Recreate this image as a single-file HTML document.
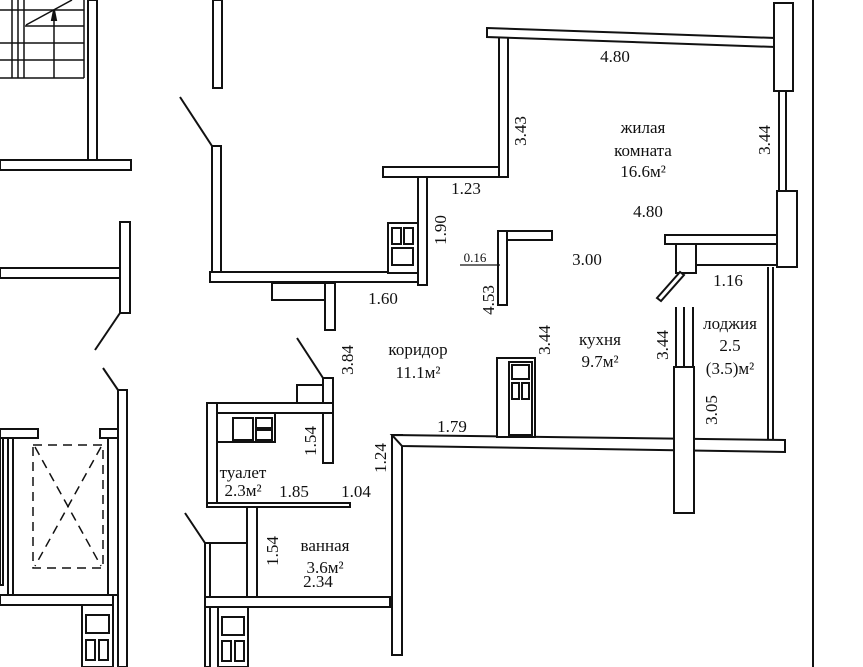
<!DOCTYPE html>
<html><head><meta charset="utf-8"><style>
html,body{margin:0;padding:0;background:#fff;}
svg{display:block;}
text{font-family:"Liberation Serif","DejaVu Serif",serif;font-size:17px;fill:#111;}
</style></head><body>
<svg width="863" height="667" viewBox="0 0 863 667" xmlns="http://www.w3.org/2000/svg">
<g fill="#fff" stroke="#111" stroke-width="2">
<!-- stair top-left -->
<g stroke-width="1.5">
<line x1="0" y1="10" x2="84" y2="10"/><line x1="25" y1="26" x2="84" y2="26"/><line x1="0" y1="43" x2="84" y2="43"/><line x1="0" y1="60" x2="84" y2="60"/><line x1="0" y1="78" x2="84" y2="78"/>
<line x1="12" y1="0" x2="12" y2="78"/><line x1="18" y1="0" x2="18" y2="78"/><line x1="24" y1="0" x2="24" y2="78"/>
<line x1="54" y1="12" x2="54" y2="78"/><line x1="26" y1="25" x2="72" y2="0"/><line x1="84" y1="0" x2="84" y2="78"/>
</g>
<polygon points="52,20 54,10 56,20" fill="#111"/>
<rect x="88" y="0" width="9" height="160"/>
<rect x="0" y="160" width="131" height="10"/>
<rect x="213" y="0" width="9" height="88"/>
<line x1="180" y1="97" x2="212" y2="146"/>
<rect x="212" y="146" width="9" height="126"/>
<rect x="210" y="272" width="217" height="10"/>
<rect x="418" y="176" width="9" height="109"/>
<rect x="383" y="167" width="124" height="10"/>
<rect x="499" y="37" width="9" height="140"/>
<polygon points="487,28 775,38 775,47 487,37"/>
<rect x="774" y="3" width="19" height="88"/>
<line x1="779" y1="91" x2="779" y2="191"/><line x1="786" y1="91" x2="786" y2="191"/>
<rect x="777" y="191" width="20" height="76"/>
<rect x="665" y="235" width="112" height="9"/>
<rect x="677" y="244" width="100" height="21"/>
<rect x="676" y="244" width="20" height="29"/>
<polygon points="657,298 680,272 684,275 661,301"/>
<line x1="768" y1="267" x2="768" y2="440"/><line x1="773" y1="267" x2="773" y2="440"/>
<line x1="813" y1="0" x2="813" y2="667"/>
<rect x="498" y="231" width="54" height="9"/>
<rect x="498" y="231" width="9" height="74"/>
<line x1="460" y1="265" x2="500" y2="265" stroke-width="1.2"/>
<!-- fridge top -->
<rect x="388" y="223" width="30" height="50"/>
<rect x="392" y="228" width="9" height="16"/><rect x="404" y="228" width="9" height="16"/><rect x="392" y="248" width="21" height="17"/>
<rect x="272" y="283" width="53" height="17"/>
<rect x="325" y="283" width="10" height="47"/>
<!-- left middle -->
<rect x="0" y="268" width="120" height="10"/>
<rect x="120" y="222" width="10" height="91"/>
<line x1="120" y1="313" x2="95" y2="350"/>
<!-- bottom-left -->
<line x1="103" y1="368" x2="118" y2="390"/>
<rect x="118" y="390" width="9" height="277"/>
<rect x="0" y="429" width="38" height="9"/>
<rect x="100" y="429" width="18" height="9"/>
<rect x="0" y="438" width="3" height="147"/><rect x="8" y="438" width="5" height="157"/>
<rect x="0" y="595" width="113" height="10"/>
<rect x="108" y="438" width="10" height="157"/>
<g stroke-dasharray="9,6" stroke-width="1.5" fill="none">
<rect x="33" y="445" width="70" height="123"/><line x1="35" y1="447" x2="101" y2="566"/><line x1="101" y1="447" x2="35" y2="566"/>
</g>
<rect x="82" y="605" width="31" height="62"/>
<rect x="86" y="615" width="23" height="18"/><rect x="86" y="640" width="9" height="20"/><rect x="99" y="640" width="9" height="20"/>
<!-- toilet -->
<line x1="297" y1="338" x2="323" y2="378"/>
<rect x="297" y="385" width="26" height="20"/>
<rect x="323" y="378" width="10" height="85"/>
<rect x="207" y="403" width="126" height="10"/>
<rect x="207" y="403" width="10" height="102"/>
<rect x="217" y="413" width="58" height="29"/>
<rect x="233" y="418" width="20" height="22"/><rect x="256" y="418" width="16" height="10"/><rect x="256" y="430" width="16" height="10"/>
<rect x="207" y="503" width="143" height="4"/>
<!-- bath -->
<line x1="185" y1="513" x2="205" y2="543"/>
<rect x="247" y="507" width="10" height="91"/>
<rect x="205" y="543" width="5" height="124"/>
<rect x="210" y="543" width="37" height="54"/>
<rect x="205" y="597" width="185" height="10"/>
<rect x="218" y="607" width="30" height="60"/>
<rect x="222" y="617" width="22" height="18"/><rect x="222" y="641" width="9" height="20"/><rect x="235" y="641" width="9" height="20"/>
<!-- corridor / kitchen bottom -->
<rect x="392" y="435" width="10" height="220"/>
<polygon points="392,435 785,440 785,452 402,446"/>
<rect x="497" y="358" width="38" height="79"/>
<rect x="509" y="362" width="23" height="73"/>
<rect x="512" y="365" width="17" height="14"/><rect x="512" y="383" width="7" height="16"/><rect x="522" y="383" width="7" height="16"/>
<line x1="676" y1="307" x2="676" y2="367"/><line x1="684" y1="307" x2="684" y2="367"/><line x1="693" y1="307" x2="693" y2="367"/>
<rect x="674" y="367" width="20" height="146"/>
</g>
<g text-anchor="middle">
<text x="615" y="62">4.80</text>
<text x="643" y="133">жилая</text>
<text x="643" y="156">комната</text>
<text x="643" y="177">16.6м²</text>
<text x="466" y="194">1.23</text>
<text x="648" y="217">4.80</text>
<text x="475" y="262" style="font-size:13px">0.16</text>
<text x="587" y="265">3.00</text>
<text x="728" y="286">1.16</text>
<text x="383" y="304">1.60</text>
<text x="600" y="345">кухня</text>
<text x="600" y="367">9.7м²</text>
<text x="730" y="329">лоджия</text>
<text x="730" y="351">2.5</text>
<text x="730" y="374">(3.5)м²</text>
<text x="418" y="355">коридор</text>
<text x="418" y="378">11.1м²</text>
<text x="452" y="432">1.79</text>
<text x="243" y="478">туалет</text>
<text x="243" y="496">2.3м²</text>
<text x="294" y="497">1.85</text>
<text x="356" y="497">1.04</text>
<text x="325" y="551">ванная</text>
<text x="325" y="573">3.6м²</text>
<text x="318" y="587">2.34</text>
<g transform="rotate(-90)">
<text x="-131" y="526">3.43</text>
<text x="-140" y="770">3.44</text>
<text x="-230" y="446">1.90</text>
<text x="-300" y="494">4.53</text>
<text x="-340" y="550">3.44</text>
<text x="-345" y="668">3.44</text>
<text x="-410" y="717">3.05</text>
<text x="-360" y="353">3.84</text>
<text x="-441" y="316">1.54</text>
<text x="-458" y="386">1.24</text>
<text x="-551" y="278">1.54</text>
</g>
</g>
</svg>
</body></html>
